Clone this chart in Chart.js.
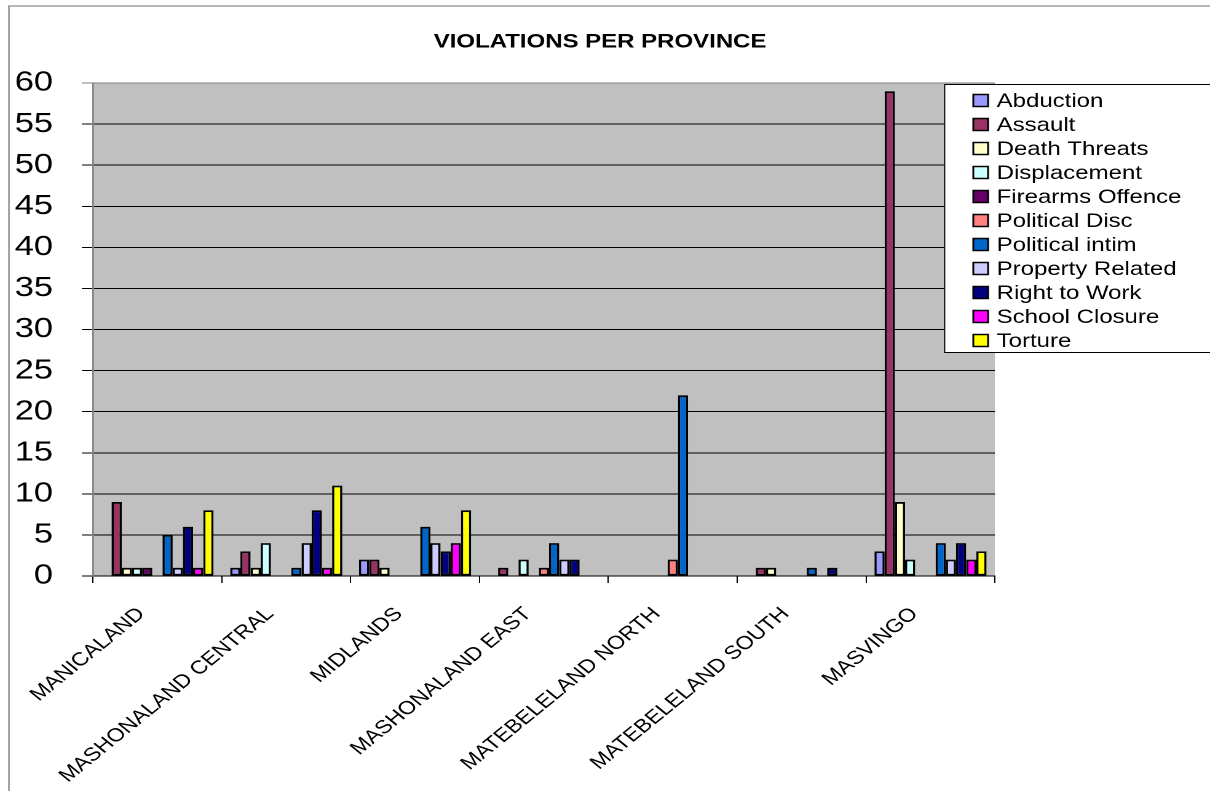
<!DOCTYPE html>
<html><head><meta charset="utf-8">
<script src="https://cdn.jsdelivr.net/npm/chart.js@4.4.0/dist/chart.umd.min.js"></script>
<style>
html,body{margin:0;padding:0;background:#fff;overflow:hidden;}
#c{display:block;}
</style></head><body>
<canvas id="c" width="984" height="791" style="width:1210px;height:791px"></canvas>
<script>
const categories = ['MANICALAND','MASHONALAND CENTRAL','MIDLANDS','MASHONALAND EAST','MATEBELELAND NORTH','MATEBELELAND SOUTH','MASVINGO'];
const seriesNames = ['Abduction','Assault','Death Threats','Displacement','Firearms Offence','Political Disc','Political intim','Property Related','Right to Work','School Closure','Torture'];
const seriesColors = ['#9999FF','#993366','#FFFFCC','#CCFFFF','#660066','#FF8080','#0066CC','#CCCCFF','#000080','#FF00FF','#FFFF00'];
const abduction       = [0, 1, 2, 0, 0, 0, 3];
const assault         = [9, 3, 2, 1, 0, 1, 59];
const deathThreats    = [1, 1, 1, 0, 0, 1, 9];
const displacement    = [1, 4, 0, 2, 0, 0, 2];
const firearmsOffence = [1, 0, 0, 0, 0, 0, 0];
const politicalDisc   = [0, 0, 0, 1, 2, 0, 0];
const politicalIntim  = [5, 1, 6, 4, 22, 1, 4];
const propertyRelated = [1, 4, 4, 2, 0, 0, 2];
const rightToWork     = [6, 8, 3, 2, 0, 1, 4];
const schoolClosure   = [1, 1, 4, 0, 0, 0, 2];
const torture         = [8, 11, 8, 0, 0, 0, 3];
const yMin = 0, yMax = 60, yStep = 5;
const titleText = 'VIOLATIONS PER PROVINCE';

const seriesValues = [abduction, assault, deathThreats, displacement, firearmsOffence, politicalDisc, politicalIntim, propertyRelated, rightToWork, schoolClosure, torture];
const FONT = "'Liberation Sans', Arial, sans-serif";

const frameAndText = {
  id: 'frameAndText',
  afterDraw(chart) {
    const ctx = chart.ctx;
    ctx.save();
    ctx.strokeStyle = '#a0a0a0';
    ctx.lineWidth = 1.5;
    ctx.beginPath();
    ctx.moveTo(7.3, 900); ctx.lineTo(7.3, 6); ctx.lineTo(1100, 6);
    ctx.stroke();
    ctx.fillStyle = '#000';
    ctx.font = "bold 19.5px " + FONT;
    ctx.textAlign = 'center';
    ctx.textBaseline = 'middle';
    ctx.fillText(titleText, 488, 42);
    const lx = 767.7, ly = 84.5, lh = 268;
    ctx.fillStyle = '#fff';
    ctx.fillRect(lx, ly, 400, lh);
    ctx.strokeStyle = '#000';
    ctx.lineWidth = 1;
    ctx.strokeRect(lx + 0.5, ly, 400, lh);
    ctx.font = "19.5px " + FONT;
    ctx.textAlign = 'left';
    ctx.textBaseline = 'middle';
    chart.data.datasets.forEach((ds, i) => {
      const cy = 100.5 + 24 * i;
      ctx.fillStyle = ds.backgroundColor;
      ctx.fillRect(791.5, cy - 6, 12, 12);
      ctx.strokeStyle = '#000';
      ctx.lineWidth = 1.5;
      ctx.strokeRect(791.5, cy - 6, 12, 12);
      ctx.fillStyle = '#000';
      ctx.fillText(ds.label, 810.5, cy + 1);
    });
    ctx.restore();
  }
};

const bgPlugin = {
  id: 'plotBg',
  beforeDraw(chart) {
    const {ctx, chartArea: a} = chart;
    ctx.save();
    ctx.fillStyle = '#fff';
    ctx.fillRect(0, 0, chart.width, chart.height);
    ctx.fillStyle = '#C0C0C0';
    ctx.fillRect(a.left, a.top, a.right - a.left, a.bottom - a.top);
    ctx.restore();
  }
};

new Chart(document.getElementById('c'), {
  type: 'bar',
  data: {
    labels: categories,
    datasets: seriesNames.map((n, i) => ({
      label: n,
      data: seriesValues[i],
      backgroundColor: seriesColors[i],
      borderColor: '#000',
      borderWidth: 1.8,
      borderSkipped: false,
      barPercentage: 1.0,
      categoryPercentage: 0.87
    }))
  },
  options: {
    responsive: false,
    animation: false,
    devicePixelRatio: 2,
    layout: { padding: { left: 0, top: 83, right: 174.9, bottom: 0 } },
    plugins: { legend: { display: false }, title: { display: false }, tooltip: { enabled: false } },
    scales: {
      x: {
        offset: true,
        grid: { offset: true, drawOnChartArea: false, color: '#000', tickLength: 7, lineWidth: 1 },
        border: { color: '#000', width: 1 },
        ticks: { autoSkip: false, maxRotation: 45, minRotation: 45, color: '#000', font: { family: FONT, size: 18.8 }, padding: 20, labelOffset: -13 },
        afterFit: s => { s.height = 215; }
      },
      y: {
        min: yMin, max: yMax,
        ticks: { stepSize: yStep, color: '#000', font: { family: FONT, size: 28 }, padding: 23.5 },
        grid: { color: c => (c.tick && c.tick.value === yMax) ? '#808080' : '#000', lineWidth: 1, tickLength: 9 },
        border: { color: '#808080', width: 1.3 },
        afterFit: s => { s.width = 75.6; }
      }
    }
  },
  plugins: [bgPlugin, frameAndText]
});
</script>
</body></html>
